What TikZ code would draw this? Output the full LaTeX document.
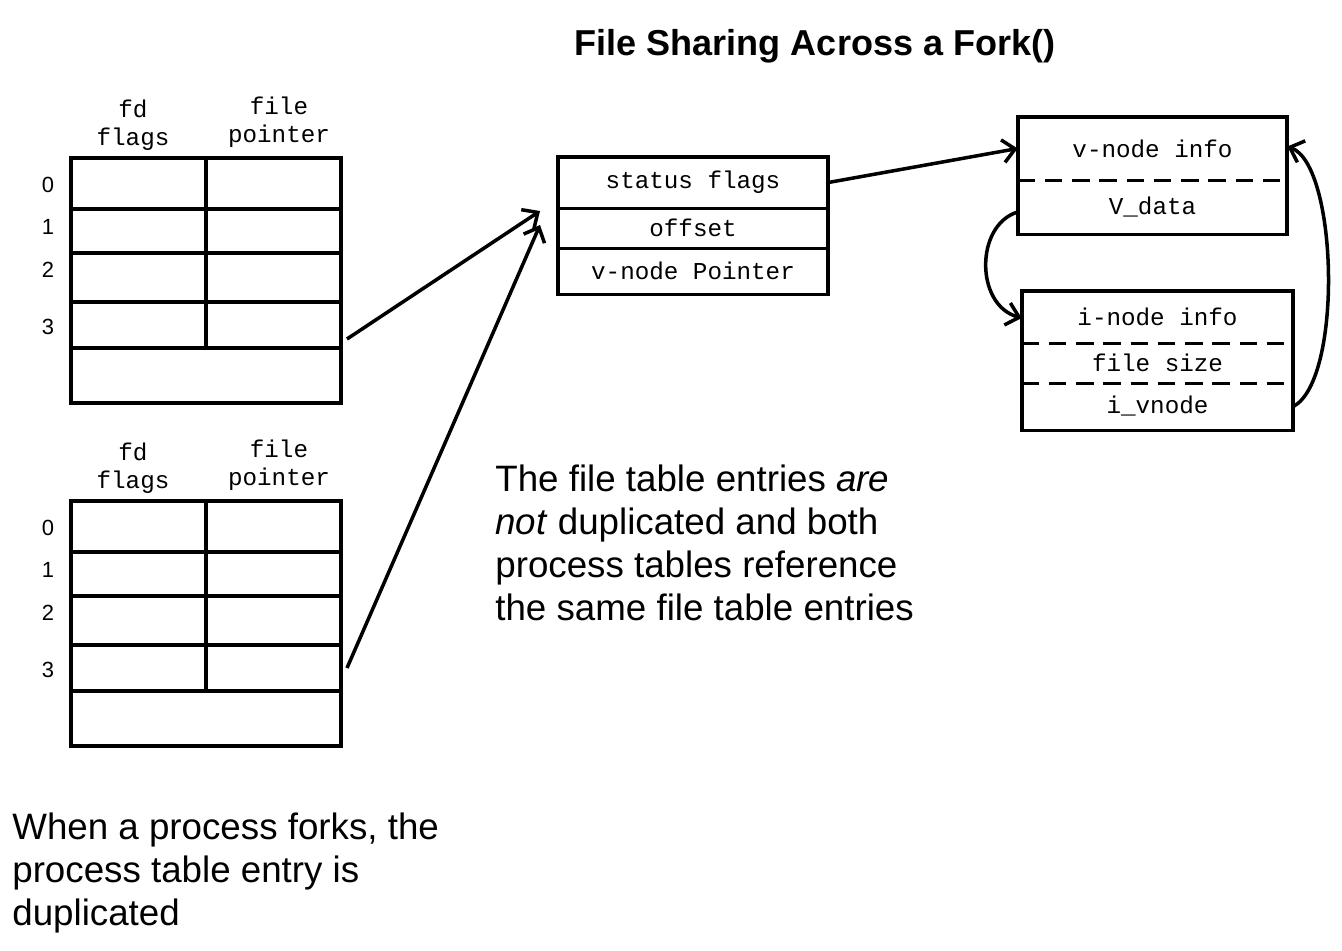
\documentclass[tikz,border=0pt]{standalone}
\usepackage{fontspec}
\setmainfont{Liberation Sans}
\setmonofont{Liberation Mono}
\usetikzlibrary{arrows.meta}

\tikzset{
  box/.style={line width=2.1pt},
  dashline/.style={line width=2.1pt, dash pattern=on 10pt off 5.5pt},
  arr/.style={-{Straight Barb[length=7pt,width=13pt]}, line width=2pt},
  mono/.style={font=\fontsize{13.8}{15.9}\selectfont\ttfamily, inner sep=0pt},
  idx/.style={font=\fontsize{12.5}{13}\selectfont, inner sep=0pt},
  row/.style={inner sep=0pt, minimum width=5.4cm, font=\fontsize{13.8}{15.9}\selectfont\ttfamily},
  note/.style={font=\fontsize{20.9}{24.4}\selectfont, align=left, anchor=north west, inner sep=0pt},
}

\begin{document}
\begin{tikzpicture}[x=0.02cm, y=-0.02cm]
\useasboundingbox (0,0) rectangle (1342,950);

% title
\node[font=\fontsize{20.5}{24}\selectfont\bfseries] (title) at (815,46) {File Sharing Across a Fork()};

% process tables (parent and child)
\foreach \dy/\t/\ay in {0/top/339, 343/bot/325} {
  \begin{scope}[yshift=-\dy*0.02cm]
    \draw[box] (71,158) rectangle (341,403);
    \draw[box] (71,209) -- (341,209);
    \draw[box] (71,253) -- (341,253);
    \draw[box] (71,302) -- (341,302);
    \draw[box] (71,348) -- (341,348);
    \draw[box] (206,158) -- (206,348);
    \node[mono, align=center] (\t-fd) at (133,125) {fd\\flags};
    \node[mono, align=center] (\t-fp) at (279,122) {file\\pointer};
    \node[idx] (\t-0) at (48,185) {0};
    \node[idx] (\t-1) at (48,227) {1};
    \node[idx] (\t-2) at (48,270) {2};
    \node[idx] (\t-3) at (48,327) {3};
    \coordinate (\t-out) at (347,\ay);
  \end{scope}
}

% file table
\node[row, minimum height=1.02cm] (sflags) at (693,182.5) {status flags};
\node[row, minimum height=0.8cm] (offset) at (693,228) {offset};
\node[row, minimum height=0.92cm] (vptr) at (693,271) {v-node Pointer};
\draw[box] (sflags.north west) rectangle (vptr.south east);
\draw[box] (sflags.south west) -- (sflags.south east);
\draw[box] (offset.south west) -- (offset.south east);
\coordinate (ft-in1) at (540,211);
\coordinate (ft-in2) at (540,225);

% v-node
\node[row, minimum width=5.38cm, minimum height=1.26cm] (vinfo) at (1152.5,148.5) {v-node info};
\node[row, minimum width=5.38cm, minimum height=1.08cm] (vdata) at (1152.5,207) {V\_data};
\draw[box] (vinfo.north west) rectangle (vdata.south east);
\draw[dashline] (vinfo.south west) -- (vinfo.south east);

% i-node
\node[row, minimum width=5.42cm, minimum height=1.04cm] (iinfo) at (1157.5,317) {i-node info};
\node[row, minimum width=5.42cm, minimum height=0.8cm] (fsize) at (1157.5,363) {file size};
\node[row, minimum width=5.42cm, minimum height=0.94cm] (ivn) at (1157.5,406.5) {i\_vnode};
\draw[box] (iinfo.north west) rectangle (ivn.south east);
\draw[dashline] (iinfo.south west) -- (iinfo.south east);
\draw[dashline] (fsize.south west) -- (fsize.south east);

% connectors
\draw[arr] (top-out) -- (ft-in1);
\draw[arr] (bot-out) -- (ft-in2);
\draw[arr] (sflags.east) -- (vinfo.west);
\draw[arr] ([yshift=-0.1cm]vdata.west) .. controls (975,225) and (975,305) .. ([yshift=-0.02cm]iinfo.west);
\draw[arr] (ivn.east) .. controls (1343,380) and (1338,165) .. ([yshift=0.04cm]vinfo.east);

% notes
\node[note] (note1) at (495,465) {The file table entries \textit{are}\\\textit{not} duplicated and both\\process tables reference\\the same file table entries};
\node[note] (note2) at (12,813) {When a process forks, the\\process table entry is\\duplicated};
\end{tikzpicture}
\end{document}
